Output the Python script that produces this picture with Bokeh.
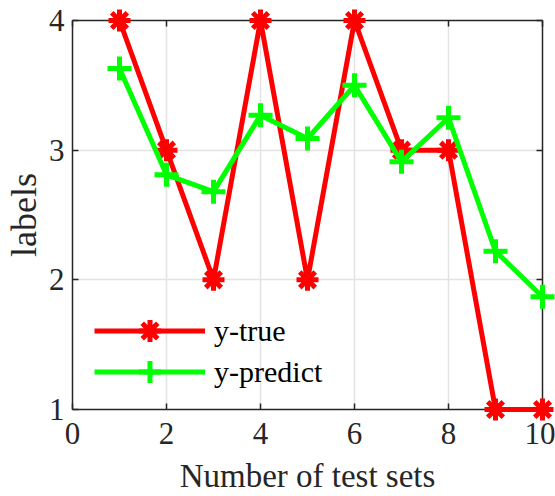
from bokeh.plotting import figure
from bokeh.models import (LinearAxis, Range1d, Legend, LegendItem, FixedTicker,
                          CustomLabelingPolicy)
from bokeh.embed import file_html
from bokeh.resources import INLINE

x_sets = [1, 2, 3, 4, 5, 6, 7, 8, 9, 10]
y_true = [4, 3, 2, 4, 2, 4, 3, 3, 1, 1]
y_predict = [3.63, 2.81, 2.68, 3.27, 3.09, 3.50, 2.91, 3.25, 2.22, 1.87]
x_ticks = [0, 2, 4, 6, 8, 10]
y_ticks = [1, 2, 3, 4]

FONT = "Liberation Serif"
AX = "#262626"

p = figure(width=555, height=496, output_backend="svg", toolbar_location=None,
           x_range=Range1d(x_ticks[0], x_ticks[-1]), y_range=Range1d(y_ticks[0], y_ticks[-1]),
           min_border_left=70, min_border_right=13, min_border_top=20, min_border_bottom=85,
           x_axis_label="Number of test sets", y_axis_label="labels")
p.outline_line_color = None
p.background_fill_color = "white"


def style(ax, ticks):
    ax.ticker = FixedTicker(ticks=ticks)
    ax.axis_line_color = AX
    ax.axis_line_width = 1.5
    ax.major_tick_line_color = AX
    ax.major_tick_line_width = 1.5
    ax.major_tick_in = 6
    ax.major_tick_out = 0
    ax.minor_tick_line_color = None
    ax.major_label_text_font = FONT
    ax.major_label_text_font_size = "31px"
    ax.major_label_text_color = AX
    ax.axis_label_text_font = FONT
    ax.axis_label_text_font_style = "normal"
    ax.axis_label_text_color = AX


style(p.xaxis[0], x_ticks)
style(p.yaxis[0], y_ticks)
p.xaxis[0].major_label_standoff = 13
p.xaxis[0].axis_label_standoff = 11
p.xaxis[0].axis_label_text_font_size = "33px"
p.yaxis[0].major_label_standoff = 8
p.yaxis[0].axis_label_standoff = 2
p.yaxis[0].axis_label_text_font_size = "36px"

hide_all = CustomLabelingPolicy(code="for (const i of indices) { indices.unset(i) }\nreturn indices")
for loc, ticks in (("above", x_ticks), ("right", y_ticks)):
    a = LinearAxis()
    style(a, ticks)
    a.major_label_text_font_size = "1px"
    a.major_label_standoff = 0
    a.major_label_policy = hide_all
    p.add_layout(a, loc)

p.xgrid.ticker = FixedTicker(ticks=x_ticks)
p.ygrid.ticker = FixedTicker(ticks=y_ticks)
p.grid.grid_line_color = "#e3e3e3"
p.grid.grid_line_width = 1.5

r1 = p.line(x_sets, y_true, line_color="#ff0000", line_width=5, level="overlay")
m1 = p.scatter(x_sets, y_true, marker="asterisk", size=22, line_color="#ff0000", line_width=5,
               level="overlay")
r2 = p.line(x_sets, y_predict, line_color="#00ff00", line_width=5, level="overlay")
m2 = p.scatter(x_sets, y_predict, marker="cross", size=24, line_color="#00ff00", line_width=5,
               level="overlay")

common = dict(border_line_color=None, background_fill_alpha=0, padding=0, margin=0,
              glyph_width=111, glyph_height=55, label_height=55, label_standoff=9,
              label_text_font=FONT, label_text_font_size="30px", label_text_color="#000000")
leg1 = Legend(items=[LegendItem(label="y-true", renderers=[r1, m1])], location=(22, 51), **common)
leg2 = Legend(items=[LegendItem(label="y-predict", renderers=[r2, m2])], location=(22, 10), **common)
p.add_layout(leg1, "center")
p.add_layout(leg2, "center")

open("out.html", "w").write(file_html(p, INLINE))
